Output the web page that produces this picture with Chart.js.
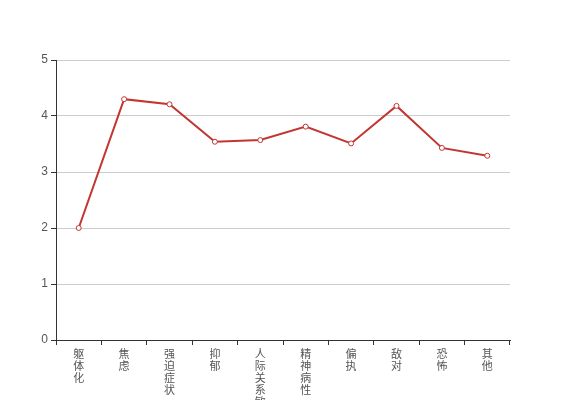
<!DOCTYPE html>
<html>
<head>
<meta charset="utf-8">
<script src="https://cdn.jsdelivr.net/npm/chart.js@4"></script>
<style>
  html, body { margin: 0; padding: 0; background: #fff; }
  #box { width: 567px; height: 400px; }
</style>
</head>
<body>
<div id="box"><canvas id="lineChart" width="567" height="400"></canvas></div>
<script>
// 症状因子与平均分
const categories = ['躯体化', '焦虑', '强迫症状', '抑郁', '人际关系敏感', '精神病性', '偏执', '敌对', '恐怖', '其他']
const scores = [2.0, 4.3, 4.21, 3.54, 3.57, 3.81, 3.51, 4.18, 3.43, 3.29]
const yTicks = [0, 1, 2, 3, 4, 5]

const fontFamily = '"Liberation Sans", Arial, "Noto Sans CJK SC", sans-serif'

new Chart(document.getElementById('lineChart'), {
    type: 'line',
    data: {
        // one character per line, like the original vertical labels
        labels: categories.map(c => c.split('')),
        datasets: [{
            data: scores,
            borderColor: '#c23531',
            borderWidth: 2,
            backgroundColor: '#ffffff',
            pointBackgroundColor: '#ffffff',
            pointBorderColor: '#c23531',
            pointBorderWidth: 1,
            pointRadius: 2.5,
            tension: 0,
            fill: false
        }]
    },
    options: {
        responsive: false,
        animation: false,
        layout: {
            padding: { top: 60, right: 57, left: 0, bottom: 0 }
        },
        plugins: {
            legend: { display: false },
            tooltip: { enabled: false }
        },
        scales: {
            x: {
                offset: true,
                grid: {
                    offset: true,
                    drawOnChartArea: false,
                    tickLength: 5,
                    tickColor: '#333'
                },
                border: { color: '#333', width: 1 },
                ticks: {
                    autoSkip: false,
                    maxRotation: 0,
                    minRotation: 0,
                    padding: 4,
                    color: '#555',
                    font: { family: fontFamily, size: 11, lineHeight: 1.1 }
                },
                afterFit: scale => { scale.height = 60 }
            },
            y: {
                min: 0,
                max: 5,
                afterBuildTicks: scale => { scale.ticks = yTicks.map(v => ({ value: v })) },
                grid: {
                    color: '#cccccc',
                    tickColor: '#333',
                    tickLength: 5
                },
                border: { color: '#333', width: 1 },
                ticks: {
                    padding: 3,
                    color: '#555',
                    font: { family: fontFamily, size: 12 }
                },
                afterFit: scale => { scale.width = 56 }
            }
        }
    }
})
</script>
</body>
</html>
